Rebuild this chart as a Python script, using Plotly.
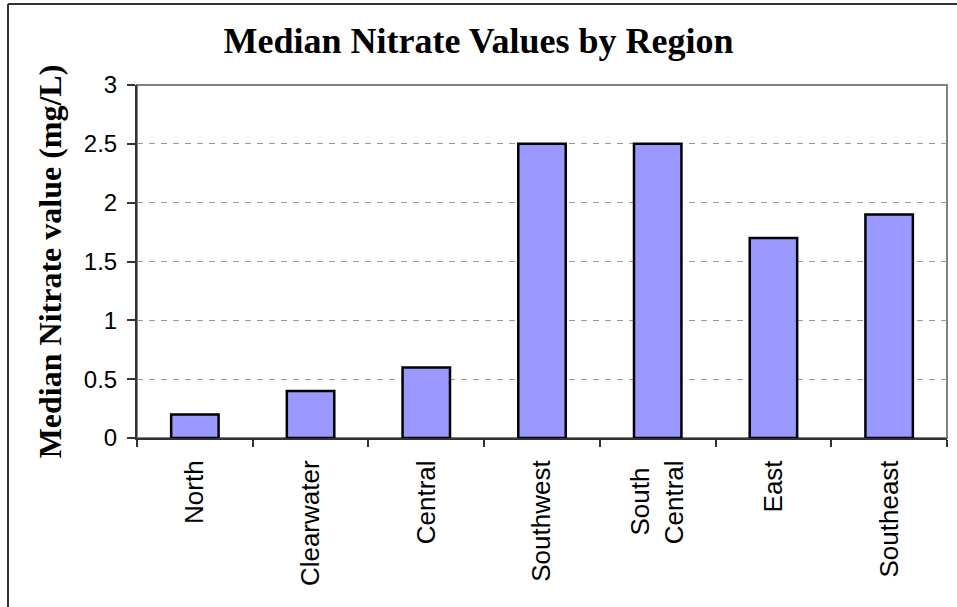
import plotly.graph_objects as go

regions = ["North", "Clearwater", "Central", "Southwest", "South\u00a0<br>Central", "East", "Southeast"]
nitrate = [0.2, 0.4, 0.6, 2.5, 2.5, 1.7, 1.9]
y_ticks = [0, 0.5, 1, 1.5, 2, 2.5, 3]
y_tick_text = ["0", "0.5", "1", "1.5", "2", "2.5", "3"]

W, H = 957, 607
L, R, T, B = 137, 10, 85, 169
pw, ph = W - L - R, H - T - B

fig = go.Figure()
fig.add_trace(go.Bar(
    x=regions, y=nitrate,
    marker=dict(color="#9999FF", line=dict(color="black", width=2.5)),
    width=0.41,
))

# plot area border (gray)
fig.add_shape(type="rect", xref="paper", yref="paper", x0=0, x1=1, y0=0, y1=1,
              line=dict(color="#808080", width=2), layer="below")
# outer chart border (left and top only visible)
bx = (8 - L) / pw
by = 1 + (T - 4) / ph
fig.add_shape(type="line", xref="paper", yref="paper", x0=bx, x1=bx, y0=by, y1=-2,
              line=dict(color="#333333", width=2))
fig.add_shape(type="line", xref="paper", yref="paper", x0=bx, x1=3, y0=by, y1=by,
              line=dict(color="#333333", width=2))

fig.update_layout(
    width=W, height=H,
    margin=dict(l=L, r=R, t=T, b=B),
    paper_bgcolor="white", plot_bgcolor="white",
    showlegend=False,
    title=dict(text="<b>Median Nitrate Values by Region</b>",
               x=0.5, xanchor="center", y=1 - 40 / H, yanchor="middle",
               font=dict(family="Liberation Serif", size=36, color="black")),
    font=dict(family="Liberation Sans", color="black"),
)
fig.update_xaxes(
    showline=True, linecolor="#333333", linewidth=2,
    ticks="outside", ticklen=7, tickwidth=2, tickcolor="#333333",
    tickson="boundaries", tickangle=-90, ticklabelstandoff=10,
    tickfont=dict(family="Liberation Sans", size=26, color="black"),
    showgrid=False,
)
fig.update_yaxes(
    range=[0, 3], tickvals=y_ticks, ticktext=y_tick_text,
    showline=True, linecolor="#333333", linewidth=2,
    ticks="outside", ticklen=8, tickwidth=2, tickcolor="#333333",
    ticklabelstandoff=5,
    tickfont=dict(family="Liberation Sans", size=24, color="black"),
    showgrid=True, gridcolor="#999999", gridwidth=1, griddash="6px,6px",
    zeroline=False,
    title=dict(text="<b>Median Nitrate value (mg/L)</b>", standoff=13,
               font=dict(family="Liberation Serif", size=32, color="black")),
)

fig.write_html("out.html", config={"displayModeBar": False},
               post_script="document.body.style.margin='0';")
